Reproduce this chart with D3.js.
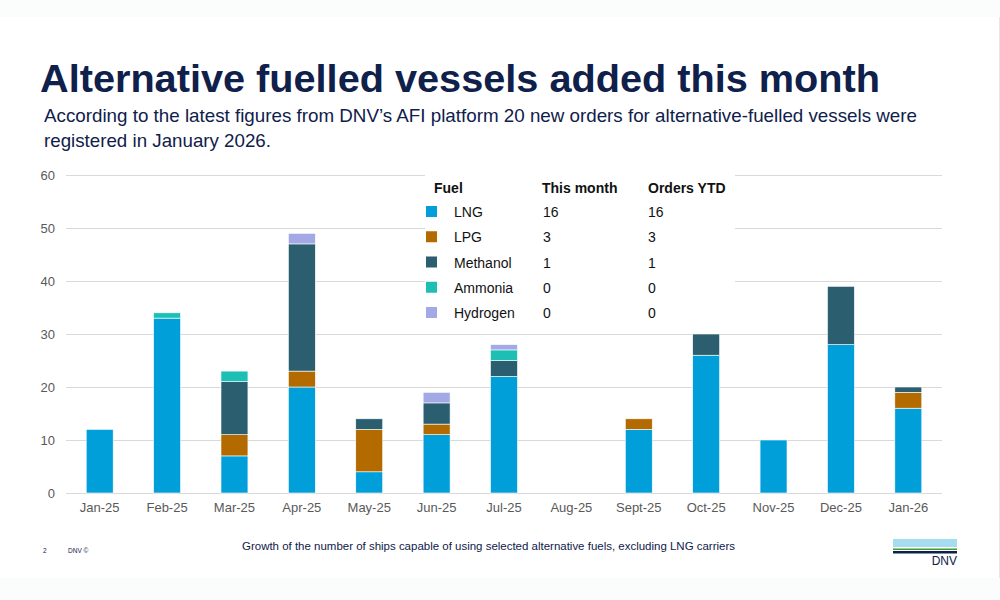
<!DOCTYPE html>
<html>
<head>
<meta charset="utf-8">
<script src="https://cdn.jsdelivr.net/npm/d3@7"></script>
<style>
  body { margin: 0; background: #fbfcfc; }
  svg { display: block; font-family: "Liberation Sans", Arial, sans-serif; }
</style>
</head>
<body>
<svg id="chart"></svg>
<script>
// ---- data ----
const months = ['Jan-25', 'Feb-25', 'Mar-25', 'Apr-25', 'May-25', 'Jun-25', 'Jul-25',
    'Aug-25', 'Sept-25', 'Oct-25', 'Nov-25', 'Dec-25', 'Jan-26'];
const lng = [12, 33, 7, 20, 4, 11, 22, 0, 12, 26, 10, 28, 16];
const lpg = [0, 0, 4, 3, 8, 2, 0, 0, 2, 0, 0, 0, 3];
const methanol = [0, 0, 10, 24, 2, 4, 3, 0, 0, 4, 0, 11, 1];
const ammonia = [0, 1, 2, 0, 0, 0, 2, 0, 0, 0, 0, 0, 0];
const hydrogen = [0, 0, 0, 2, 0, 2, 1, 0, 0, 0, 0, 0, 0];

const fuels = ['LNG', 'LPG', 'Methanol', 'Ammonia', 'Hydrogen'];
const thisMonth = [16, 3, 1, 0, 0];
const ordersYtd = [16, 3, 1, 0, 0];
const yTicks = [0, 10, 20, 30, 40, 50, 60];

const colors = {
    LNG: '#009fda',
    LPG: '#b36b00',
    Methanol: '#2b5f70',
    Ammonia: '#1dbfb4',
    Hydrogen: '#a3a9e5'
};
const navy = '#0f204b';

// ---- setup ----
const width = 1000, height = 600;
const margin = { top: 175, right: 58, bottom: 107, left: 66 };

const svg = d3.select('#chart')
    .attr('width', width)
    .attr('height', height);

// slide background
svg.append('rect')
    .attr('x', 0).attr('y', 17)
    .attr('width', 999).attr('height', 561)
    .attr('fill', '#fff');
svg.append('line')
    .attr('x1', 999.5).attr('x2', 999.5)
    .attr('y1', 17).attr('y2', 578)
    .attr('stroke', '#e6e6e6');

// title + subtitle
svg.append('text')
    .attr('x', 40).attr('y', 92)
    .attr('fill', navy)
    .attr('font-size', 39)
    .attr('font-weight', 'bold')
    .attr('textLength', 840)
    .attr('lengthAdjust', 'spacingAndGlyphs')
    .text('Alternative fuelled vessels added this month');

svg.append('text')
    .attr('x', 44).attr('y', 122)
    .attr('fill', navy)
    .attr('font-size', 19)
    .attr('textLength', 873)
    .attr('lengthAdjust', 'spacingAndGlyphs')
    .text('According to the latest figures from DNV\u2019s AFI platform 20 new orders for alternative-fuelled vessels were');

svg.append('text')
    .attr('x', 44).attr('y', 147)
    .attr('fill', navy)
    .attr('font-size', 19)
    .attr('textLength', 227)
    .attr('lengthAdjust', 'spacingAndGlyphs')
    .text('registered in January 2026.');

// ---- chart ----
const chartW = width - margin.left - margin.right;
const chartH = height - margin.top - margin.bottom;

const chart = svg.append('g')
    .attr('transform', `translate(${margin.left},${margin.top})`);

const x = d3.scaleBand()
    .domain(months)
    .range([0, chartW])
    .paddingInner(0.6)
    .paddingOuter(0.3);

const y = d3.scaleLinear()
    .domain([0, 60])
    .range([chartH, 0]);

// gridlines
chart.selectAll('.grid')
    .data(yTicks)
    .join('line')
    .attr('class', 'grid')
    .attr('x1', 0).attr('x2', chartW)
    .attr('y1', d => y(d) + 0.5).attr('y2', d => y(d) + 0.5)
    .attr('stroke', '#d9d9d9');

// y labels
chart.selectAll('.ylab')
    .data(yTicks)
    .join('text')
    .attr('class', 'ylab')
    .attr('x', -11)
    .attr('y', d => y(d))
    .attr('dy', '0.35em')
    .attr('text-anchor', 'end')
    .attr('font-size', 13)
    .attr('fill', '#595959')
    .text(d => d);

// x labels
chart.selectAll('.xlab')
    .data(months)
    .join('text')
    .attr('class', 'xlab')
    .attr('x', d => x(d) + x.bandwidth() / 2)
    .attr('y', chartH + 19)
    .attr('text-anchor', 'middle')
    .attr('font-size', 13)
    .attr('fill', '#595959')
    .text(d => d);

// stacked bars
const rows = months.map((m, i) => ({
    month: m,
    LNG: lng[i],
    LPG: lpg[i],
    Methanol: methanol[i],
    Ammonia: ammonia[i],
    Hydrogen: hydrogen[i]
}));

const stacked = d3.stack().keys(fuels)(rows);

chart.selectAll('.series')
    .data(stacked)
    .join('g')
    .attr('class', 'series')
    .attr('fill', d => colors[d.key])
    .selectAll('rect')
    .data(d => d.filter(s => s[1] > s[0]))
    .join('rect')
    .attr('x', d => x(d.data.month))
    .attr('y', d => y(d[1]))
    .attr('width', x.bandwidth())
    .attr('height', d => y(d[0]) - y(d[1]))
    .attr('stroke', '#fff')
    .attr('stroke-width', 0.6);

// ---- legend table ----
const legend = svg.append('g');
legend.append('rect')
    .attr('x', 425).attr('y', 173)
    .attr('width', 310).attr('height', 152)
    .attr('fill', '#fff');

const headers = [
    { label: 'Fuel', x: 434 },
    { label: 'This month', x: 542 },
    { label: 'Orders YTD', x: 648 }
];
legend.selectAll('.hdr')
    .data(headers)
    .join('text')
    .attr('class', 'hdr')
    .attr('x', d => d.x)
    .attr('y', 193)
    .attr('font-size', 14)
    .attr('font-weight', 'bold')
    .attr('fill', '#111')
    .text(d => d.label);

const rowY = d3.scalePoint()
    .domain(fuels)
    .range([217, 318]);

const legRows = legend.selectAll('.legrow')
    .data(fuels)
    .join('g')
    .attr('class', 'legrow')
    .attr('transform', d => `translate(0,${rowY(d)})`);

legRows.append('rect')
    .attr('x', 426).attr('y', -11)
    .attr('width', 11).attr('height', 11)
    .attr('fill', d => colors[d]);

legRows.append('text')
    .attr('x', 454)
    .attr('font-size', 14)
    .attr('fill', '#111')
    .text(d => d);

legRows.append('text')
    .attr('x', 543)
    .attr('font-size', 14)
    .attr('fill', '#111')
    .text((d, i) => thisMonth[i]);

legRows.append('text')
    .attr('x', 648)
    .attr('font-size', 14)
    .attr('fill', '#111')
    .text((d, i) => ordersYtd[i]);

// ---- footer ----
svg.append('text')
    .attr('x', 43).attr('y', 553)
    .attr('font-size', 6.5)
    .attr('fill', navy)
    .text('2');
svg.append('text')
    .attr('x', 68).attr('y', 553)
    .attr('font-size', 6.5)
    .attr('fill', navy)
    .text('DNV \u00a9');

svg.append('text')
    .attr('x', 242).attr('y', 550)
    .attr('font-size', 11.5)
    .attr('fill', navy)
    .attr('textLength', 493)
    .attr('lengthAdjust', 'spacingAndGlyphs')
    .text('Growth of the number of ships capable of using selected alternative fuels, excluding LNG carriers');

// DNV logo
const logo = svg.append('g');
logo.append('rect').attr('x', 893).attr('y', 539).attr('width', 64).attr('height', 8).attr('fill', '#a6dcf0');
logo.append('rect').attr('x', 893).attr('y', 548.5).attr('width', 64).attr('height', 1.5).attr('fill', '#3f9c35');
logo.append('rect').attr('x', 893).attr('y', 551).attr('width', 64).attr('height', 2.5).attr('fill', navy);
logo.append('text')
    .attr('x', 957).attr('y', 565)
    .attr('text-anchor', 'end')
    .attr('font-size', 12)
    .attr('fill', navy)
    .text('DNV');
</script>
</body>
</html>
